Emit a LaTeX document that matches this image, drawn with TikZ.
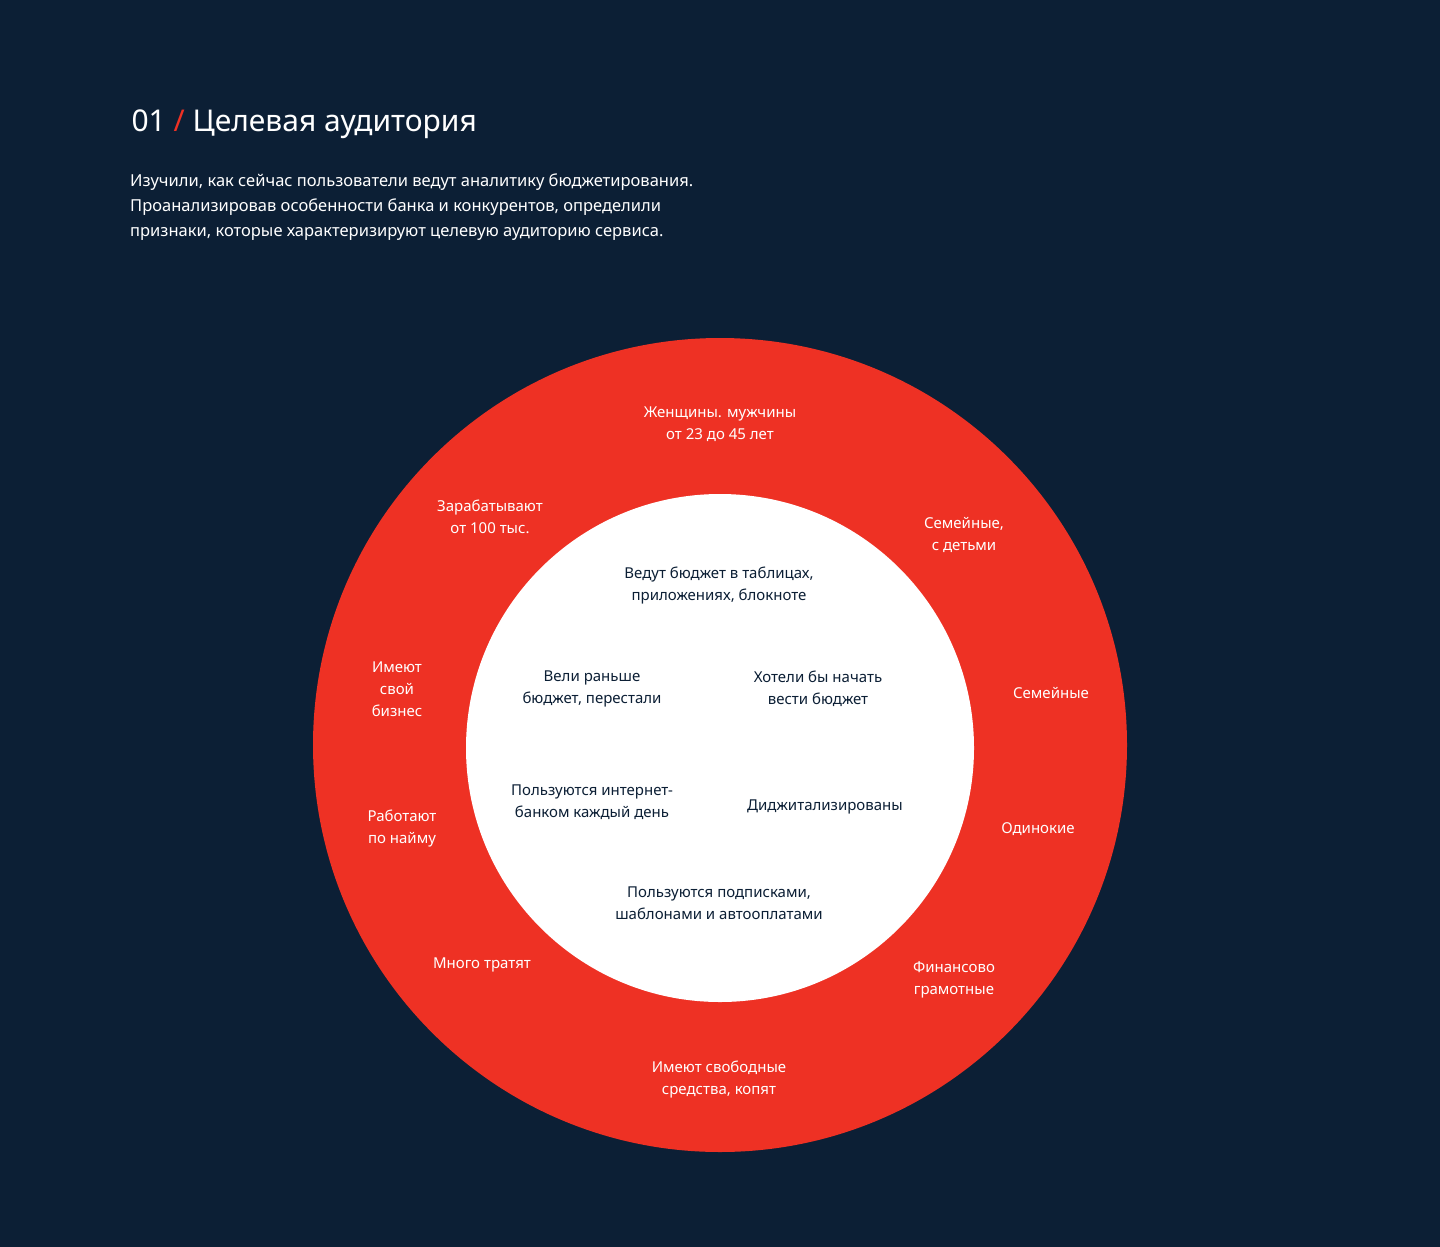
\documentclass[tikz,border=0pt]{standalone}
\usepackage{fontspec}
\setmainfont{Noto Sans}
\definecolor{bg}{HTML}{0C1F35}
\definecolor{rd}{HTML}{EE3124}
\definecolor{ink}{HTML}{0C1F35}
\begin{document}
\begin{tikzpicture}[x=1pt,y=-1pt,
  o/.style={text=white,align=center,font=\fontsize{15}{22}\selectfont},
  i/.style={text=ink,align=center,font=\fontsize{15}{22}\selectfont}]
\fill[bg] (0,0) rectangle (1440,1247);
\useasboundingbox (0,0) rectangle (1440,1247);
\node[anchor=west,text=white,font=\fontsize{30}{36}\selectfont\bfseries] (title) at (128,124) {01 \textcolor{rd}{/} Целевая аудитория};
\node[anchor=north west,text=white,align=left,inner sep=0,font=\fontsize{16.5}{25}\selectfont] (intro) at (130,174) {Изучили, как сейчас пользователи ведут аналитику бюджетирования.\\Проанализировав особенности банка и конкурентов, определили\\признаки, которые характеризируют целевую аудиторию сервиса.};
\fill[rd] (720,745) circle (407);
\fill[white] (720,748) circle (254);
\node[o] (a1) at (720,424) {Женщины. мужчины\\от 23 до 45 лет};
\node[o] (a2) at (490,517) {Зарабатывают\\от 100 тыс.};
\node[o] (a3) at (964,535) {Семейные,\\с детьми};
\node[o] (a4) at (397,689) {Имеют\\свой\\бизнес};
\node[o] (a5) at (1051,693) {Семейные};
\node[o] (a6) at (402,829) {Работают\\по найму};
\node[o] (a7) at (1038,829) {Одинокие};
\node[o] (a8) at (482,965) {Много тратят};
\node[o] (a9) at (954,980) {Финансово\\грамотные};
\node[o] (a10) at (719,1080) {Имеют свободные\\средства, копят};
\node[i] (b1) at (719,586) {Ведут бюджет в таблицах,\\приложениях, блокноте};
\node[i] (b2) at (592,689) {Вели раньше\\бюджет, перестали};
\node[i] (b3) at (818,689) {Хотели бы начать\\вести бюджет};
\node[i] (b4) at (592,802) {Пользуются интернет-\\банком каждый день};
\node[i] (b5) at (825,807) {Диджитализированы};
\node[i] (b6) at (719,903) {Пользуются подписками,\\шаблонами и автооплатами};
\end{tikzpicture}
\end{document}
